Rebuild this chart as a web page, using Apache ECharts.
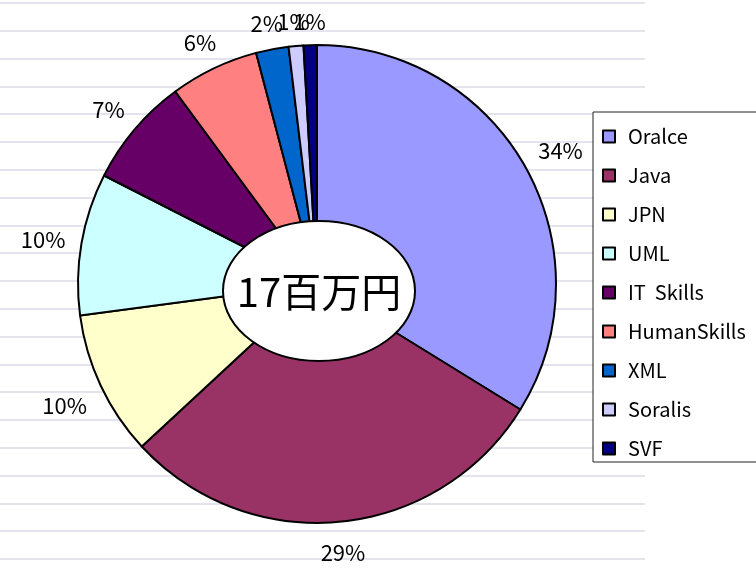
<!DOCTYPE html>
<html>
<head>
<meta charset="utf-8">
<script src="https://cdn.jsdelivr.net/npm/echarts@6/dist/echarts.min.js"></script>
<style>html,body{margin:0;padding:0;background:#fff}#c{width:756px;height:570px}</style>
</head>
<body>
<div id="c"></div>
<script>
const categories = ['Oralce', 'Java', 'JPN', 'UML', 'IT  Skills', 'HumanSkills', 'XML', 'Soralis', 'SVF'];
const values = [33.8, 29.3, 9.8, 9.6, 7.4, 6.0, 2.2, 1.0, 0.9];
const colors = ['#9999FF', '#993366', '#FFFFCC', '#CCFFFF', '#660066', '#FF8080', '#0066CC', '#CCCCFF', '#000080'];
const centerLabel = '17百万円';

const CX = 317, CY = 284, R = 239, PAD = 15;
const total = values.reduce((a, b) => a + b, 0);
const cum = [];
values.reduce((acc, v, i) => { cum[i] = acc; return acc + v; }, 0);

const chart = echarts.init(document.getElementById('c'));
chart.setOption({
  animation: false,
  backgroundColor: '#fff',
  color: colors,
  grid: { left: 0, right: 111, top: 3, bottom: 11 },
  xAxis: { type: 'value', show: false, min: 0, max: 1 },
  yAxis: {
    type: 'value', min: 0, max: 20, interval: 1,
    axisLabel: { show: false }, axisLine: { show: false }, axisTick: { show: false },
    splitLine: { lineStyle: { color: '#e4e4ee', width: 2 } }
  },
  legend: {
    orient: 'vertical',
    left: 593, top: 112,
    padding: [14, 40, 3, 9],
    backgroundColor: '#fff',
    borderColor: '#222',
    borderWidth: 1,
    itemWidth: 12, itemHeight: 12,
    itemGap: 18,
    icon: 'rect',
    itemStyle: { borderColor: '#000', borderWidth: 2 },
    formatter: n => '{g|}' + n,
    textStyle: {
      fontFamily: 'Noto Sans CJK JP', fontSize: 20, lineHeight: 21, color: '#000',
      rich: { g: { width: 8 } }
    },
    data: categories
  },
  series: [{
    type: 'pie',
    center: [CX, CY],
    radius: R,
    startAngle: 90,
    clockwise: true,
    avoidLabelOverlap: false,
    data: categories.map((c, i) => ({ name: c, value: values[i] })),
    itemStyle: { borderColor: '#000', borderWidth: 2 },
    label: {
      show: true, position: 'outside',
      formatter: p => Math.round(p.percent) + '%',
      fontFamily: 'Noto Sans CJK JP', fontSize: 22, color: '#000'
    },
    labelLine: { show: false },
    emphasis: { disabled: true },
    labelLayout: function (p) {
      const i = p.dataIndex;
      const mid = (cum[i] + values[i] / 2) / total * Math.PI * 2;
      const dx = Math.sin(mid), dy = -Math.cos(mid);
      const w = p.labelRect.width, h = p.labelRect.height;
      const d = R + PAD + Math.abs(dx) * w / 2 + Math.abs(dy) * h / 2;
      return { x: CX + dx * d, y: CY + dy * d + 3, align: 'center', verticalAlign: 'middle' };
    }
  }],
  graphic: [
    { type: 'ellipse', z: 100, zlevel: 0, shape: { cx: 319, cy: 291, rx: 96, ry: 70 },
      style: { fill: '#fff', stroke: '#000', lineWidth: 2 } },
    { type: 'text', z: 101, zlevel: 0, x: 319, y: 292,
      style: { text: centerLabel, fontFamily: 'Noto Sans CJK JP', fontSize: 40,
               fill: '#000', align: 'center', verticalAlign: 'middle' } }
  ]
});
</script>
</body>
</html>
